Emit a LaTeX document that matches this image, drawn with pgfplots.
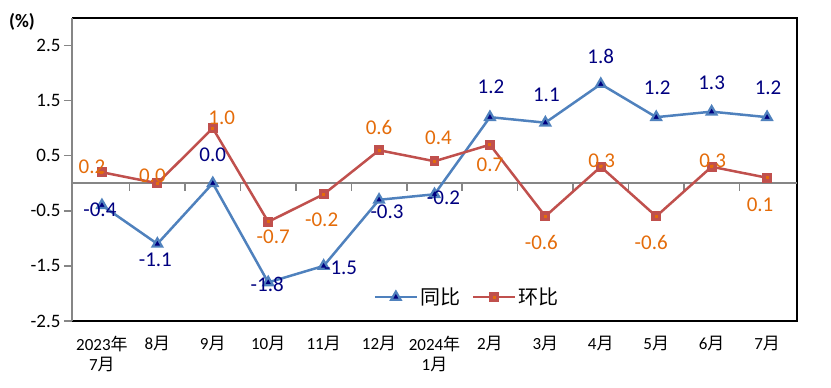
\documentclass[border=0pt]{standalone}
\usepackage{pgfplots}
\pgfplotsset{compat=1.18}
\usepackage{pgfplotstable}
\usepackage{fontspec}
\setmainfont{Carlito}
\newfontfamily\cjk{Noto Sans CJK SC}
\definecolor{blueline}{HTML}{4F81BD}
\definecolor{redline}{HTML}{C0504D}
\definecolor{bluelab}{HTML}{000080}
\definecolor{orangelab}{HTML}{E46C0A}
\definecolor{axgray}{HTML}{868686}

\pgfplotstableread{
x y dx dy
0 -0.4 -2 -4.5
1 -1.1 -2 -16
2 0.0 0 29
3 -1.8 -1 -2
4 -1.5 17 -2
5 -0.3 8 -12
6 -0.2 9 -3
7 1.2 1 30
8 1.1 1 28
9 1.8 0 28
10 1.2 1 29
11 1.3 0 29
12 1.2 1 29
}\tongbi

\pgfplotstableread{
x y dx dy
0 0.2 -10 5.5
1 0.0 -5 7.5
2 1.0 9 10.5
3 -0.7 5 -15
4 -0.2 -2 -25.5
5 0.6 0 22.5
6 0.4 4 23
7 0.7 0 -20
8 -0.6 -4 -26.5
9 0.3 1 6
10 -0.6 -5 -26.5
11 0.3 1 6
12 0.1 -7 -27
}\huanbi

\begin{document}
\begin{tikzpicture}
\useasboundingbox (-72pt,-67pt) rectangle (759pt,321pt);
\begin{axis}[
  at={(0,0)}, anchor=south west,
  scale only axis, width=725pt, height=303pt,
  xmin=-0.54, xmax=12.54, ymin=-2.5, ymax=3,
  axis line style={draw=none},
  xtick={0,...,12},
  xticklabels={{2023{\cjk 年}\\7{\cjk 月}},{8{\cjk 月}},{9{\cjk 月}},{10{\cjk 月}},{11{\cjk 月}},{12{\cjk 月}},{2024{\cjk 年}\\1{\cjk 月}},{2{\cjk 月}},{3{\cjk 月}},{4{\cjk 月}},{5{\cjk 月}},{6{\cjk 月}},{7{\cjk 月}}},
  xtick pos=bottom,
  xtick style={draw=none},
  xticklabel style={align=center, font=\fontsize{17}{20}\selectfont, yshift=-4pt},
  ytick={-2.5,-1.5,-0.5,0.5,1.5,2.5},
  ytick pos=left, tick align=outside, major tick length=8pt,
  ytick style={axgray, line width=1.5pt},
  yticklabel style={font=\fontsize{19}{22}\selectfont},
  yticklabel={\pgfmathprintnumber[fixed,fixed zerofill,precision=1]{\tick}},
  /pgf/number format/assume math mode=true,
  clip=false,
  legend style={at={(0.545,0.079)}, anchor=center, draw=none, fill=none,
    legend columns=2, font=\fontsize{20}{24}\selectfont\cjk,
    /tikz/every even column/.append style={column sep=10pt}},
  legend image code/.code={\draw[mark repeat=2,mark phase=2] plot coordinates {(0pt,0pt) (21pt,0pt) (42pt,0pt)};},
]
\draw[black, line width=2pt] (rel axis cs:0,0) -- (rel axis cs:1,0) -- (rel axis cs:1,1) -- (rel axis cs:0,1);
\draw[axgray, line width=2pt] (rel axis cs:0,0) -- (rel axis cs:0,1);
\draw[axgray, line width=2pt] (axis cs:-0.54,0) -- (axis cs:12.54,0);
\pgfplotsinvokeforeach{0.5,1.5,...,11.5}{\draw[axgray,line width=1.5pt] (axis cs:#1,0) -- ++(0pt,-8pt);}

\addplot[blueline, line width=2.5pt, mark=triangle*, mark size=5.5pt,
  mark options={fill=bluelab, draw=blueline, line width=2.2pt},
  point meta=\thisrow{y},
  visualization depends on={\thisrow{dx}\as\dx},
  visualization depends on={\thisrow{dy}\as\dy},
  nodes near coords={\pgfmathprintnumber[fixed,fixed zerofill,precision=1]{\pgfplotspointmeta}},
  nodes near coords style={anchor=center, xshift=\dx pt, yshift=\dy pt, text=bluelab, font=\fontsize{21}{24}\selectfont}
] table[x=x,y=y]{\tongbi};
\addlegendentry{同比}

\addplot[redline, line width=2.5pt, mark=square*, mark size=3.2pt,
  mark options={fill=orangelab, draw=redline, line width=3.5pt},
  point meta=\thisrow{y},
  visualization depends on={\thisrow{dx}\as\dx},
  visualization depends on={\thisrow{dy}\as\dy},
  nodes near coords={\pgfmathprintnumber[fixed,fixed zerofill,precision=1]{\pgfplotspointmeta}},
  nodes near coords style={anchor=center, xshift=\dx pt, yshift=\dy pt, text=orangelab, font=\fontsize{21}{24}\selectfont}
] table[x=x,y=y]{\huanbi};
\addlegendentry{环比}

\node[font=\bfseries\fontsize{19}{22}\selectfont, xshift=-50pt, yshift=-4pt] at (rel axis cs:0,1) {(\%)};
\end{axis}
\end{tikzpicture}
\end{document}
